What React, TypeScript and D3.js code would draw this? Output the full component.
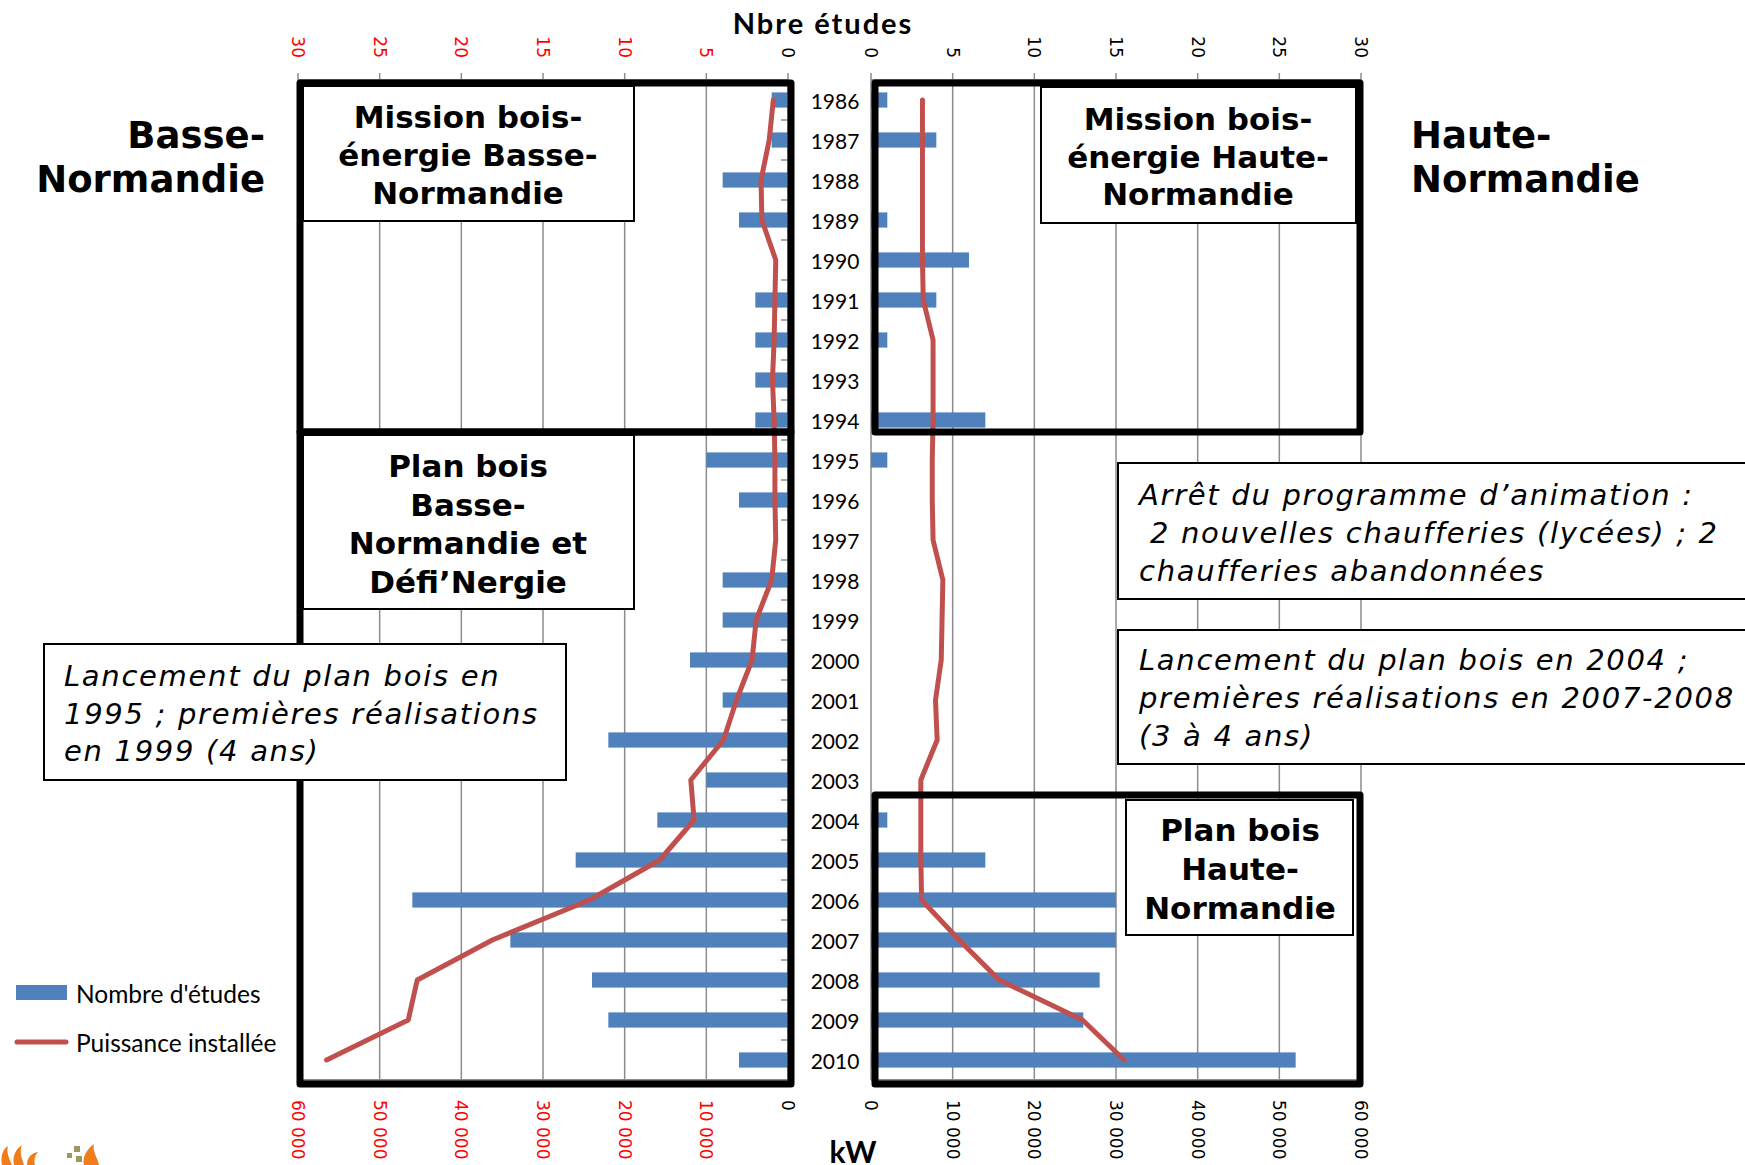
import React from "react";
import * as d3 from "d3";

const years = ["1986","1987","1988","1989","1990","1991","1992","1993","1994","1995","1996","1997","1998","1999","2000","2001","2002","2003","2004","2005","2006","2007","2008","2009","2010"];
const etudesBasse = [1,1,4,3,0,2,2,2,2,5,3,0,4,4,6,4,11,5,8,13,23,17,12,11,3];
const etudesHaute = [1,4,0,1,6,4,1,0,7,1,0,0,0,0,0,0,0,0,1,7,15,15,14,13,26];
const puissanceBasse = [1800,2300,3300,3200,1500,1600,1700,1900,1700,1600,1600,1500,2000,3900,4400,6300,7900,11900,11500,15700,24300,36200,45400,46500,56500];
const puissanceHaute = [6300,6300,6300,6300,6300,6400,7600,7600,7600,7500,7500,7600,8800,8700,8600,7900,8100,6100,6100,6100,6200,10800,15700,25900,31000];
const etudesTicks = [0,5,10,15,20,25,30];
const kwTicks = [0,10000,20000,30000,40000,50000,60000];

const boxBasse1 = ["Mission bois-", "énergie Basse-", "Normandie"];
const boxBasse2 = ["Plan bois", "Basse-", "Normandie et", "Défi’Nergie"];
const boxHaute1 = ["Mission bois-", "énergie Haute-", "Normandie"];
const boxHaute2 = ["Plan bois", "Haute-", "Normandie"];
const noteBasse = ["Lancement du plan bois en", "1995 ; premières réalisations", "en 1999 (4 ans)"];
const noteHaute1 = ["Arrêt du programme d’animation :", " 2 nouvelles chaufferies (lycées) ; 2", "chaufferies abandonnées"];
const noteHaute2 = ["Lancement du plan bois en 2004 ;", "premières réalisations en 2007-2008", "(3 à 4 ans)"];

const BLUE = "#4F81BD";
const RED = "#C0504D";
const GRID = "#8c8c8c";

const fmt = (v: number) => d3.format(",")(v).replace(/,/g, " ");

export default function App() {
  const y = d3.scaleBand().domain(years).range([80, 1080]).paddingInner(0.62).paddingOuter(0.31);
  const bw = y.bandwidth();
  const yc = (yr: string) => (y(yr) as number) + bw / 2;
  const step = y.step();
  const xL = d3.scaleLinear().domain([0, 30]).range([788, 298]);
  const xR = d3.scaleLinear().domain([0, 30]).range([871, 1361]);
  const kL = d3.scaleLinear().domain([0, 60000]).range([788, 298]);
  const kR = d3.scaleLinear().domain([0, 60000]).range([871, 1361]);

  const lineL = d3.line<number>().x((d) => kL(d)).y((_, i) => yc(years[i]));
  const lineR = d3.line<number>().x((d) => kR(d)).y((_, i) => yc(years[i]));

  const boxFont = { fontFamily: "'DejaVu Sans', Verdana, sans-serif", fontWeight: 700, fontSize: 31 } as const;
  const noteFont = { fontFamily: "'DejaVu Sans', Verdana, sans-serif", fontStyle: "italic", fontSize: 29, letterSpacing: 1.7, whiteSpace: "pre" } as const;

  const boundaries = d3.range(years.length + 1).map((i) => 80 + i * step);

  return (
    <svg width={1745} height={1165} style={{ position: "absolute", left: 0, top: 0, background: "#fff" }}>
      <rect x={0} y={0} width={1745} height={1165} fill="#fff" />
      {/* gridlines */}
      {etudesTicks.filter((t) => t > 0).map((t) => (
        <line key={"gl" + t} x1={xL(t)} x2={xL(t)} y1={80} y2={1080} stroke={GRID} strokeWidth={1.5} />
      ))}
      {etudesTicks.filter((t) => t > 0).map((t) => (
        <line key={"gr" + t} x1={xR(t)} x2={xR(t)} y1={80} y2={1080} stroke={GRID} strokeWidth={1.5} />
      ))}
      {/* category axes */}
      <line x1={788} x2={788} y1={80} y2={1080} stroke={GRID} strokeWidth={1.5} />
      <line x1={871} x2={871} y1={80} y2={1080} stroke={GRID} strokeWidth={1.5} />
      {boundaries.map((b, i) => (
        <line key={"ct" + i} x1={781} x2={788} y1={b} y2={b} stroke={GRID} strokeWidth={1.5} />
      ))}
      {/* top axes */}
      <line x1={xL(30)} x2={xL(0)} y1={80} y2={80} stroke={GRID} strokeWidth={2} />
      <line x1={xR(0)} x2={xR(30)} y1={80} y2={80} stroke={GRID} strokeWidth={2} />
      {etudesTicks.map((t) => (
        <g key={"tt" + t}>
          <line x1={xL(t)} x2={xL(t)} y1={73} y2={80} stroke={GRID} strokeWidth={1.5} />
          <line x1={xR(t)} x2={xR(t)} y1={73} y2={80} stroke={GRID} strokeWidth={1.5} />
          <text transform={`translate(${xL(t)},58) rotate(90)`} textAnchor="end" dominantBaseline="central"
            fontFamily="'DejaVu Sans', Verdana, sans-serif" fontSize={17} fill={t === 0 ? "#000" : "#FF0000"}>{t}</text>
          <text transform={`translate(${xR(t)},58) rotate(90)`} textAnchor="end" dominantBaseline="central"
            fontFamily="'DejaVu Sans', Verdana, sans-serif" fontSize={17} fill="#000">{t}</text>
        </g>
      ))}
      {/* bottom axes */}
      <line x1={kL(60000)} x2={kL(0)} y1={1080} y2={1080} stroke={GRID} strokeWidth={2} />
      <line x1={kR(0)} x2={kR(60000)} y1={1080} y2={1080} stroke={GRID} strokeWidth={2} />
      {kwTicks.map((t) => (
        <g key={"bt" + t}>
          <text transform={`translate(${kL(t)},1100) rotate(90)`} textAnchor="start" dominantBaseline="central"
            fontFamily="'DejaVu Sans', Verdana, sans-serif" fontSize={17} fill={t === 0 ? "#000" : "#FF0000"}>{fmt(t)}</text>
          <text transform={`translate(${kR(t)},1100) rotate(90)`} textAnchor="start" dominantBaseline="central"
            fontFamily="'DejaVu Sans', Verdana, sans-serif" fontSize={17} fill="#000">{fmt(t)}</text>
        </g>
      ))}
      {/* bars */}
      {etudesBasse.map((v, i) => v > 0 ? (
        <rect key={"bb" + i} x={xL(v)} y={y(years[i])} width={xL(0) - xL(v)} height={bw} fill={BLUE} />
      ) : null)}
      {etudesHaute.map((v, i) => v > 0 ? (
        <rect key={"bh" + i} x={xR(0)} y={y(years[i])} width={xR(v) - xR(0)} height={bw} fill={BLUE} />
      ) : null)}
      {/* lines */}
      <path d={lineL(puissanceBasse) || ""} fill="none" stroke={RED} strokeWidth={5} strokeLinejoin="round" strokeLinecap="round" />
      <path d={lineR(puissanceHaute) || ""} fill="none" stroke={RED} strokeWidth={5} strokeLinejoin="round" strokeLinecap="round" />
      {/* year labels */}
      {years.map((yr) => (
        <text key={"y" + yr} x={835} y={yc(yr)} textAnchor="middle" dominantBaseline="central"
          fontFamily="Lato, 'Open Sans', sans-serif" fontSize={21} fill="#000">{yr}</text>
      ))}
      {/* thick boxes */}
      <g fill="none" stroke="#000" strokeWidth={7} strokeLinejoin="round">
        <rect x={300} y={83} width={491} height={349} />
        <rect x={300} y={432} width={491} height={652} />
        <rect x={875} y={83} width={485} height={349} />
        <rect x={875} y={795} width={485} height={289} />
      </g>
      {/* text boxes */}
      <g fill="#fff" stroke="#000" strokeWidth={2}>
        <rect x={303} y={86} width={331} height={135} />
        <rect x={303} y={435} width={331} height={174} />
        <rect x={44} y={644} width={522} height={136} />
        <rect x={1041} y={87} width={315} height={136} />
        <rect x={1118} y={463} width={700} height={136} />
        <rect x={1118} y={630} width={700} height={134} />
        <rect x={1126} y={800} width={227} height={135} />
      </g>
      {boxBasse1.map((s, i) => (
        <text key={"b1" + i} x={468} y={117 + i * 38} textAnchor="middle" dominantBaseline="central" {...boxFont}>{s}</text>
      ))}
      {boxBasse2.map((s, i) => (
        <text key={"b2" + i} x={468} y={466 + i * 38.7} textAnchor="middle" dominantBaseline="central" {...boxFont}>{s}</text>
      ))}
      {boxHaute1.map((s, i) => (
        <text key={"h1" + i} x={1198} y={119 + i * 37.5} textAnchor="middle" dominantBaseline="central" {...boxFont}>{s}</text>
      ))}
      {boxHaute2.map((s, i) => (
        <text key={"h2" + i} x={1240} y={830 + i * 39} textAnchor="middle" dominantBaseline="central" {...boxFont}>{s}</text>
      ))}
      {noteBasse.map((s, i) => (
        <text key={"n0" + i} x={64} y={676 + i * 37.5} dominantBaseline="central" style={noteFont}>{s}</text>
      ))}
      {noteHaute1.map((s, i) => (
        <text key={"n1" + i} x={1139} y={495 + i * 38} dominantBaseline="central" style={noteFont}>{s}</text>
      ))}
      {noteHaute2.map((s, i) => (
        <text key={"n2" + i} x={1139} y={660 + i * 38} dominantBaseline="central" style={noteFont}>{s}</text>
      ))}
      {/* region labels */}
      <g fontFamily="'DejaVu Sans', Verdana, sans-serif" fontWeight={700} fontSize={37} fill="#000">
        <text x={265} y={135} textAnchor="end" dominantBaseline="central">Basse-</text>
        <text x={265} y={179} textAnchor="end" dominantBaseline="central">Normandie</text>
        <text x={1411} y={135} dominantBaseline="central">Haute-</text>
        <text x={1411} y={179} dominantBaseline="central">Normandie</text>
      </g>
      {/* axis titles */}
      <text x={823} y={22} textAnchor="middle" dominantBaseline="central" fontFamily="Lato, sans-serif" fontWeight={700} fontSize={29} letterSpacing={2}>Nbre études</text>
      <text x={853} y={1151} textAnchor="middle" dominantBaseline="central" fontFamily="Lato, sans-serif" fontWeight={700} fontSize={30}>kW</text>
      {/* legend */}
      <rect x={16} y={985} width={51} height={15} fill={BLUE} />
      <text x={76} y={993} dominantBaseline="central" fontFamily="Lato, sans-serif" fontSize={24.5}>Nombre d'études</text>
      <line x1={17} x2={66} y1={1042} y2={1042} stroke={RED} strokeWidth={5} strokeLinecap="round" />
      <text x={76} y={1042} dominantBaseline="central" fontFamily="Lato, sans-serif" fontSize={24.5}>Puissance installée</text>
      {/* logos (partial) */}
      <g fill="#F07D1A">
        <path d="M2,1165 C0,1155 4,1148 8,1146 C6,1152 9,1158 12,1165 Z" />
        <path d="M14,1165 C12,1156 16,1149 22,1145 C19,1152 22,1158 24,1165 Z" />
        <path d="M27,1165 C27,1158 31,1153 38,1152 C34,1157 34,1161 35,1165 Z" />
        <path d="M84,1165 C82,1158 86,1150 94,1144 C92,1152 98,1158 99,1165 Z" />
      </g>
      <g fill="#9A9A5A">
        <rect x={74} y={1146} width={6} height={6} />
        <rect x={67} y={1153} width={5} height={5} />
        <rect x={76} y={1156} width={6} height={6} />
      </g>
    </svg>
  );
}
